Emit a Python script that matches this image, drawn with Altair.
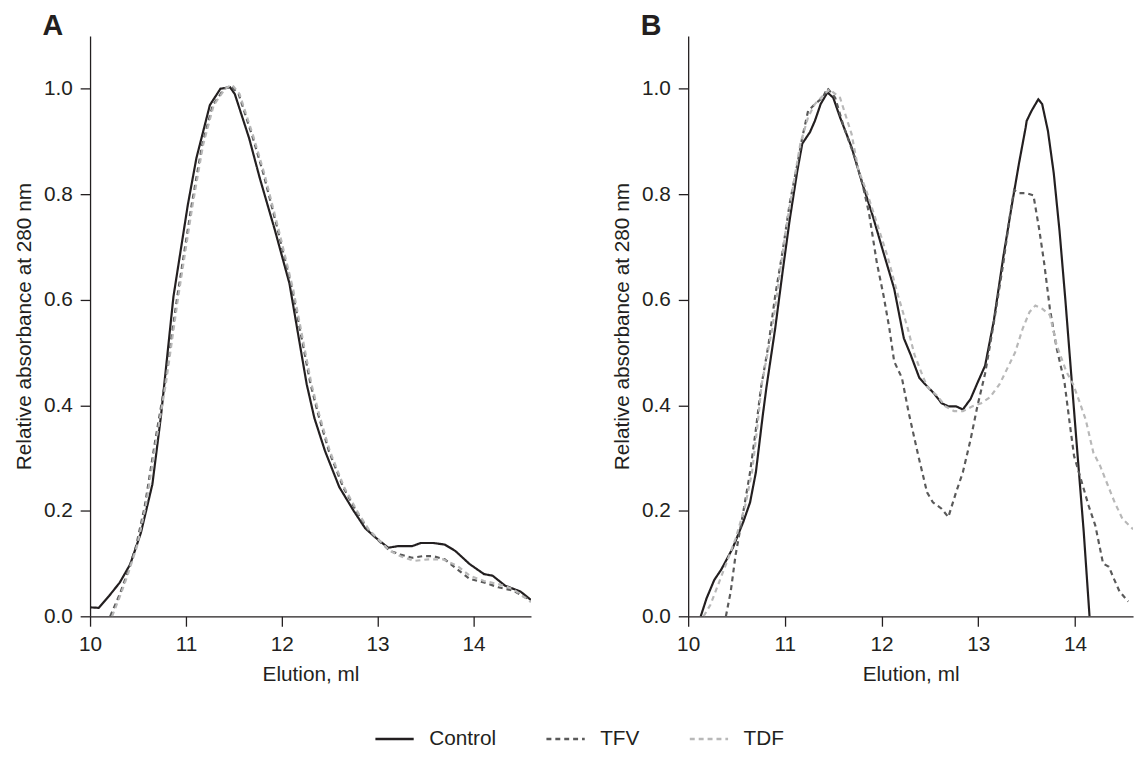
import altair as alt
import pandas as pd

series_names = ["Control", "TFV", "TDF"]
series_colors = ["#231f20", "#5a5a5a", "#b8b8b8"]
series_dash = [[1, 0], [5, 4], [5, 4]]

# Panel A
a_ctrl_x = [10.0, 10.09, 10.2, 10.31, 10.42, 10.53, 10.65, 10.74, 10.87, 11.02, 11.11, 11.25, 11.36, 11.46, 11.51, 11.66, 11.77, 11.93, 12.08, 12.26, 12.34, 12.45, 12.6, 12.75, 12.87, 12.98, 13.11, 13.21, 13.36, 13.45, 13.58, 13.7, 13.81, 13.96, 14.11, 14.2, 14.33, 14.49, 14.6]
a_ctrl_y = [0.017, 0.016, 0.039, 0.064, 0.099, 0.158, 0.25, 0.38, 0.606, 0.78, 0.869, 0.969, 1.0, 1.003, 0.99, 0.906, 0.831, 0.731, 0.631, 0.44, 0.376, 0.314, 0.245, 0.2, 0.167, 0.149, 0.13, 0.133, 0.133, 0.139, 0.139, 0.136, 0.124, 0.099, 0.08, 0.077, 0.058, 0.047, 0.031]
a_tfv_x = [10.21, 10.31, 10.38, 10.48, 10.57, 10.68, 10.78, 10.91, 11.06, 11.17, 11.28, 11.4, 11.47, 11.55, 11.7, 11.81, 11.96, 12.11, 12.3, 12.38, 12.49, 12.64, 12.79, 12.9, 13.02, 13.13, 13.24, 13.36, 13.47, 13.58, 13.7, 13.81, 13.96, 14.11, 14.26, 14.41, 14.6]
a_tfv_y = [0.0, 0.042, 0.077, 0.133, 0.208, 0.333, 0.44, 0.606, 0.78, 0.894, 0.969, 1.0, 1.005, 0.99, 0.906, 0.838, 0.731, 0.619, 0.44, 0.383, 0.314, 0.245, 0.195, 0.164, 0.142, 0.124, 0.117, 0.111, 0.114, 0.114, 0.108, 0.092, 0.071, 0.064, 0.055, 0.049, 0.03]
a_tdf_x = [10.23, 10.32, 10.39, 10.49, 10.58, 10.69, 10.79, 10.92, 11.07, 11.18, 11.29, 11.41, 11.48, 11.56, 11.71, 11.82, 11.97, 12.12, 12.31, 12.39, 12.5, 12.65, 12.8, 12.91, 13.03, 13.13, 13.24, 13.38, 13.53, 13.68, 13.83, 13.96, 14.11, 14.26, 14.41, 14.6]
a_tdf_y = [0.0, 0.042, 0.077, 0.133, 0.208, 0.333, 0.44, 0.606, 0.78, 0.894, 0.969, 1.0, 1.008, 0.99, 0.906, 0.838, 0.731, 0.619, 0.44, 0.383, 0.314, 0.245, 0.195, 0.164, 0.142, 0.124, 0.114, 0.105, 0.108, 0.108, 0.096, 0.077, 0.067, 0.061, 0.052, 0.027]

# Panel B
b_ctrl_x = [10.13, 10.19, 10.27, 10.34, 10.46, 10.57, 10.64, 10.7, 10.77, 10.81, 10.9, 10.98, 11.05, 11.13, 11.18, 11.26, 11.31, 11.37, 11.44, 11.5, 11.57, 11.69, 11.8, 11.91, 12.02, 12.13, 12.23, 12.3, 12.39, 12.47, 12.54, 12.62, 12.69, 12.77, 12.84, 12.92, 12.99, 13.07, 13.16, 13.26, 13.35, 13.42, 13.49, 13.5, 13.55, 13.62, 13.66, 13.72, 13.78, 13.84, 13.9, 13.96, 14.02, 14.09, 14.15]
b_ctrl_y = [0.0, 0.034, 0.069, 0.088, 0.129, 0.179, 0.216, 0.273, 0.379, 0.435, 0.546, 0.658, 0.752, 0.846, 0.896, 0.918, 0.939, 0.971, 0.993, 0.983, 0.946, 0.889, 0.821, 0.758, 0.689, 0.621, 0.527, 0.496, 0.452, 0.436, 0.423, 0.404, 0.398, 0.398, 0.392, 0.412, 0.442, 0.475, 0.56, 0.683, 0.783, 0.858, 0.927, 0.939, 0.958, 0.98, 0.971, 0.92, 0.84, 0.73, 0.6, 0.46, 0.32, 0.16, 0.0]
b_tfv_x = [10.39, 10.44, 10.49, 10.57, 10.64, 10.7, 10.75, 10.83, 10.9, 10.98, 11.05, 11.13, 11.18, 11.24, 11.31, 11.39, 11.44, 11.52, 11.61, 11.72, 11.8, 11.87, 11.95, 12.02, 12.08, 12.13, 12.21, 12.28, 12.38, 12.47, 12.53, 12.62, 12.69, 12.77, 12.84, 12.92, 12.99, 13.07, 13.16, 13.26, 13.33, 13.37, 13.42, 13.5, 13.57, 13.63, 13.68, 13.74, 13.81, 13.89, 13.94, 13.99, 14.07, 14.14, 14.21, 14.29, 14.35, 14.4, 14.46, 14.55]
b_tfv_y = [0.0, 0.047, 0.116, 0.198, 0.273, 0.354, 0.43, 0.514, 0.608, 0.696, 0.783, 0.858, 0.908, 0.958, 0.971, 0.983, 1.001, 0.983, 0.927, 0.871, 0.821, 0.764, 0.671, 0.608, 0.546, 0.483, 0.452, 0.386, 0.304, 0.235, 0.216, 0.204, 0.188, 0.235, 0.273, 0.335, 0.398, 0.46, 0.556, 0.671, 0.764, 0.808, 0.802, 0.802, 0.798, 0.733, 0.671, 0.583, 0.508, 0.445, 0.373, 0.304, 0.254, 0.21, 0.172, 0.1, 0.094, 0.072, 0.047, 0.028]
b_tdf_x = [10.16, 10.23, 10.31, 10.4, 10.49, 10.59, 10.66, 10.72, 10.76, 10.87, 10.94, 11.01, 11.09, 11.16, 11.24, 11.31, 11.39, 11.46, 11.57, 11.69, 11.76, 11.84, 11.95, 12.06, 12.17, 12.27, 12.34, 12.42, 12.47, 12.58, 12.66, 12.75, 12.84, 12.94, 13.03, 13.12, 13.22, 13.3, 13.38, 13.46, 13.53, 13.59, 13.66, 13.74, 13.81, 13.91, 13.98, 14.04, 14.11, 14.19, 14.26, 14.34, 14.41, 14.49, 14.6]
b_tdf_y = [0.0, 0.022, 0.06, 0.103, 0.147, 0.21, 0.273, 0.367, 0.44, 0.546, 0.639, 0.733, 0.821, 0.896, 0.946, 0.971, 0.986, 0.999, 0.983, 0.914, 0.846, 0.808, 0.746, 0.683, 0.608, 0.546, 0.496, 0.458, 0.436, 0.417, 0.398, 0.389, 0.389, 0.398, 0.404, 0.415, 0.44, 0.47, 0.5, 0.546, 0.577, 0.589, 0.583, 0.571, 0.514, 0.464, 0.44, 0.41, 0.373, 0.31, 0.285, 0.248, 0.216, 0.185, 0.165]

x_ticks = [10, 11, 12, 13, 14]
y_ticks = [0.0, 0.2, 0.4, 0.6, 0.8, 1.0]

rows = []
for panel, sets in [
    ("A", [(a_ctrl_x, a_ctrl_y), (a_tfv_x, a_tfv_y), (a_tdf_x, a_tdf_y)]),
    ("B", [(b_ctrl_x, b_ctrl_y), (b_tfv_x, b_tfv_y), (b_tdf_x, b_tdf_y)]),
]:
    for name, (xs, ys) in zip(series_names, sets):
        for i, (xv, yv) in enumerate(zip(xs, ys)):
            rows.append({"panel": panel, "series": name, "order": i, "x": xv, "y": yv})
df = pd.DataFrame(rows)

FONT = "Liberation Sans"
INK = "#231f20"

legend_cfg = dict(title=None, orient="none", legendX=287, legendY=690, direction="horizontal")


def panel_chart(letter, width):
    return (
        alt.Chart(df)
        .transform_filter(alt.datum.panel == letter)
        .mark_line(clip=True, strokeWidth=2.2)
        .encode(
            x=alt.X("x:Q", scale=alt.Scale(domain=[10, 14.6], nice=False, zero=False),
                    axis=alt.Axis(values=x_ticks, title="Elution, ml", format="d")),
            y=alt.Y("y:Q", scale=alt.Scale(domain=[0, 1.1], nice=False),
                    axis=alt.Axis(values=y_ticks, format=".1f",
                                  title="Relative absorbance at 280 nm")),
            color=alt.Color("series:N", sort=series_names,
                            scale=alt.Scale(domain=series_names, range=series_colors),
                            legend=alt.Legend(**legend_cfg)),
            strokeDash=alt.StrokeDash("series:N", sort=series_names,
                                      scale=alt.Scale(domain=series_names, range=series_dash),
                                      legend=alt.Legend(**legend_cfg)),
            order="order:Q",
        )
        .properties(
            width=width,
            height=587,
            title=alt.TitleParams(letter, anchor="start", frame="group", dx=-48,
                                  fontSize=29, fontWeight="bold", font=FONT, color=INK,
                                  offset=-5),
        )
    )


chart = (
    alt.hconcat(panel_chart("A", 446), panel_chart("B", 450), spacing=81)
    .properties(padding={"top": 0, "left": 5, "right": 5, "bottom": 5})
    .configure_view(stroke=None)
    .configure_axis(
        grid=False,
        labelFlush=False,
        domainColor=INK,
        domainWidth=1.3,
        tickColor=INK,
        tickWidth=1.3,
        tickSize=10,
        labelFont=FONT,
        labelFontSize=21,
        labelColor=INK,
        labelPadding=8,
        titleFont=FONT,
        titleFontSize=21,
        titleFontWeight="normal",
        titleColor=INK,
        titlePadding=9,
    )
    .configure_legend(
        symbolType="stroke",
        symbolSize=1500,
        symbolStrokeWidth=2.5,
        labelFont=FONT,
        labelFontSize=21,
        labelColor=INK,
        labelOffset=14,
        columnPadding=45,
    )
)

chart.save("out.html", embed_options={"renderer": "svg", "actions": False})
